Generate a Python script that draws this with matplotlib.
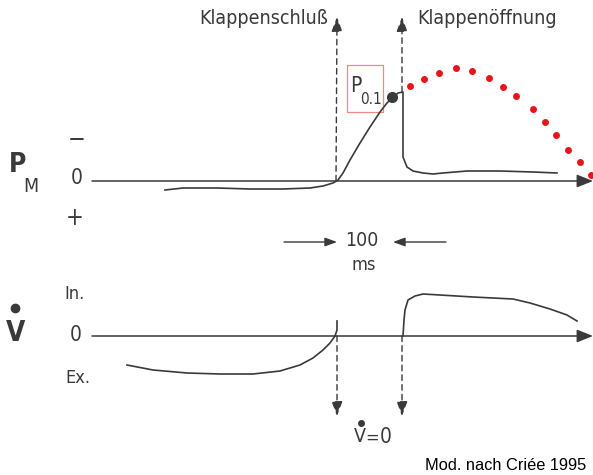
import matplotlib
matplotlib.use("Agg")
import matplotlib.pyplot as plt
from matplotlib.patches import Rectangle
from matplotlib import font_manager as fm

# ---- data (diagram units: x = time, y = drawing height, y down) ----
pm_x = [165, 183, 217, 250, 283, 310, 323, 333, 338, 343, 350, 360, 370, 380, 387, 392, 398, 403,
        403, 407, 413, 423, 433, 443, 467, 500, 533, 557]
pm_y = [190, 188, 188, 189, 189, 188, 186, 183, 180, 173, 160, 143, 127, 112, 103, 98, 93, 92,
        157, 167, 171, 173, 174, 173, 171, 171, 172, 173]

flow_ex_x = [127, 153, 187, 220, 253, 280, 300, 313, 323, 330, 335, 337, 337]
flow_ex_y = [365, 370, 373, 374, 374, 371, 365, 358, 350, 343, 336, 330, 321]

flow_in_x = [403, 404, 405, 408, 415, 423, 440, 473, 513, 530, 550, 567, 577]
flow_in_y = [336, 320, 310, 300, 296, 294, 295, 297, 299, 303, 309, 315, 321]

red_x = [410, 424, 439, 456, 472, 489, 503, 516, 533, 545, 556, 568, 580, 591]
red_y = [86, 79, 73, 68, 71, 78, 87, 96, 109, 122, 135, 150, 162, 175]

p01_x, p01_y = 392, 97
pm_zero, flow_zero = 181, 336
valve_close_x, valve_open_x = 336, 402

LINE = "#3a3a3a"

# pick a narrow sans if one is installed (the original lettering is condensed)
_avail = {(f.name, f.stretch) for f in fm.fontManager.ttflist}
_names = {n for n, _ in _avail}
if "Liberation Sans Narrow" in _names:
    FONT, STRETCH, NARROW = ["Liberation Sans Narrow", "DejaVu Sans"], "normal", True
elif any(n == "DejaVu Sans" and s == "condensed" for n, s in _avail):
    FONT, STRETCH, NARROW = ["DejaVu Sans"], "condensed", True
elif "Roboto Condensed" in _names:
    FONT, STRETCH, NARROW = ["Roboto Condensed", "DejaVu Sans"], "normal", True
else:
    FONT, STRETCH, NARROW = ["DejaVu Sans"], "normal", False
K = 1.0 if NARROW else 0.85


def txt(x, y, s, size, **kw):
    kw.setdefault("ha", "center")
    kw.setdefault("va", "center")
    kw.setdefault("color", LINE)
    ax.text(x, y, s, fontsize=size * K, family=FONT, fontstretch=STRETCH, **kw)


fig = plt.figure(figsize=(5.93, 4.75), dpi=100)
ax = fig.add_axes([0, 0, 1, 1])
ax.set_xlim(0, 593)
ax.set_ylim(475, 0)
ax.axis("off")

# axes lines with arrows
for y0 in (pm_zero, flow_zero):
    ax.annotate("", xy=(593, y0), xytext=(92, y0),
                arrowprops=dict(arrowstyle="-|>,head_length=0.7,head_width=0.28",
                                color=LINE, lw=1.1, shrinkA=0, shrinkB=0, mutation_scale=14))

# curves
ax.plot(pm_x, pm_y, color=LINE, lw=1.2, solid_joinstyle="round")
ax.plot(flow_ex_x, flow_ex_y, color=LINE, lw=1.2, solid_joinstyle="round")
ax.plot(flow_in_x, flow_in_y, color=LINE, lw=1.2, solid_joinstyle="round")
ax.plot([p01_x], [p01_y], "o", color=LINE, ms=7)
ax.plot(red_x, red_y, "o", color="#e8141c", ms=5, mec="none")

# dashed valve arrows
dash = dict(arrowstyle="-|>,head_length=0.8,head_width=0.3", color=LINE, lw=1.0,
            linestyle=(0, (4, 3)), shrinkA=0, shrinkB=0, mutation_scale=11)
ax.annotate("", xy=(valve_close_x + 1, 17), xytext=(valve_close_x, pm_zero), arrowprops=dash)
ax.annotate("", xy=(valve_open_x, 17), xytext=(valve_open_x, 92), arrowprops=dash)
ax.annotate("", xy=(337, 416), xytext=(337, flow_zero), arrowprops=dash)
ax.annotate("", xy=(402, 416), xytext=(402, flow_zero), arrowprops=dash)

# 100 ms scale
sc = dict(arrowstyle="-|>,head_length=0.6,head_width=0.22", color=LINE, lw=1.0,
          shrinkA=0, shrinkB=0, mutation_scale=12)
ax.annotate("", xy=(337, 242), xytext=(284, 242), arrowprops=sc)
ax.annotate("", xy=(393, 242), xytext=(446, 242), arrowprops=sc)
txt(362, 241, "100", 14)
txt(364, 265, "ms", 13)

# labels
txt(328, 18, "Klappenschluß", 14, ha="right")
txt(417, 18, "Klappenöffnung", 14, ha="left")

txt(18, 165, "P", 19, fontweight="bold")
txt(31, 186, "M", 14)
txt(77, 140, "\u2212", 17)
txt(77, 178, "0", 15)
txt(75, 218, "+", 17)

txt(16, 333, "V", 20, fontweight="bold")
ax.plot([15], [308], "o", color=LINE, ms=6)
txt(74, 294, "In.", 13)
txt(76, 335, "0", 15)
txt(78, 378, "Ex.", 13)

txt(360, 437, "V", 14)
ax.plot([361], [423], "o", color=LINE, ms=4)
txt(372, 438, "=", 13)
txt(386, 437, "0", 15)

# P0.1 box
ax.add_patch(Rectangle((347, 65), 36, 47, fill=False, ec="#f08a80", lw=0.9))
txt(356, 86, "P", 15)
txt(371, 99, "0.1", 11)

ax.text(425, 465, "Mod. nach Criée 1995", ha="left", va="center", fontsize=11.8,
        color="black", family=["Liberation Sans", "DejaVu Sans"])

fig.savefig("out.png", dpi=100)
